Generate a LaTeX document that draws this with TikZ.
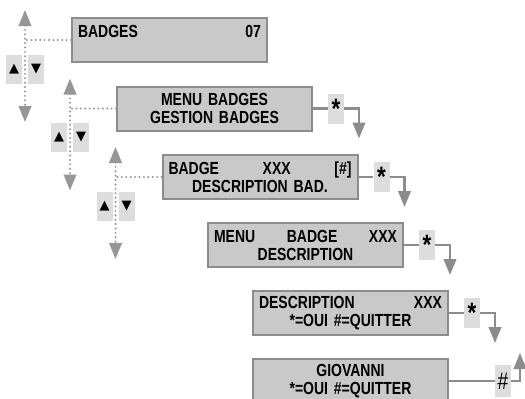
\documentclass[tikz,border=0pt]{standalone}
\usepackage{fontspec}
\setmainfont{Liberation Sans}[FakeStretch=0.8]
\newfontfamily\symfont{DejaVu Sans}
\usepackage{tikz}
\usetikzlibrary{arrows.meta,calc,positioning}
\definecolor{lcdfill}{RGB}{201,201,201}
\definecolor{lcdedge}{RGB}{140,140,140}
\definecolor{keyfill}{RGB}{221,221,221}
\definecolor{linegray}{RGB}{140,140,140}
\definecolor{dotgray}{RGB}{150,150,150}

\begin{document}
\begin{tikzpicture}[x=1pt,y=-1pt,
  lcd/.style={draw=lcdedge,fill=lcdfill,line width=2pt,minimum width=195pt,minimum height=44pt,
    text width=183pt,align=center,inner sep=0pt,font=\fontsize{17.5}{18}\selectfont\bfseries},
  key/.style={fill=keyfill,minimum width=16pt,minimum height=30pt,inner sep=0pt},
  dots/.style={draw=dotgray,line width=2.2pt,line cap=round,dash pattern=on 0pt off 4.4pt},
  conn/.style={draw=linegray,line width=2.4pt},
  tip/.tip={Triangle[length=16pt,width=12.5pt]}]
\useasboundingbox (0,0) rectangle (525,399);

\node[lcd] (badges) at (169.5,40) {BADGES\hfill 07\\\mbox{}};
\node[lcd] (menubadges) at (214.5,108.5) {MENU BADGES\\GESTION BADGES};
\node[lcd] (badge) at (260,177) {BADGE\hfill XXX\hfill [\#]\\DESCRIPTION BAD.};
\node[lcd] (menubadge) at (305.5,245) {MENU\hfill BADGE\hfill XXX\\DESCRIPTION};
\node[lcd] (descr) at (350.5,313) {DESCRIPTION\hfill XXX\\{}*=OUI \#=QUITTER};
\node[lcd] (giovanni) at (350.5,381) {GIOVANNI\\{}*=OUI \#=QUITTER};

\foreach \b in {badges,menubadges,badge}{
  \coordinate (\b-up) at ($(\b.north west)+(-46,-7)$);
  \coordinate (\b-dn) at ($(\b.north west)+(-46,105)$);
  \draw[dots] (\b.west) -- (\b.west -| \b-up);
  \draw[dots,tip-tip] (\b-up) -- (\b-dn);
  \node[key,minimum height=29pt] (\b-kup) at ($(\b.north west)+(-57,52)$) {\fontsize{13}{13}\symfont ▲};
  \node[key,minimum height=29pt] (\b-kdn) at ($(\b.north west)+(-35,52)$) {\fontsize{13}{13}\symfont ▼};
}

\foreach \b/\k in {menubadges/star1,badge/star2,menubadge/star3,descr/star4}{
  \node[key,font=\fontsize{28}{28}\selectfont\bfseries] (\k) at ($(\b.east)+(23,0)$) {*};
  \coordinate (\k-tip) at ($(\b.east)+(46,30)$);
  \draw[conn] (\b.east) -- (\k);
  \draw[conn,-tip] (\k) -| (\k-tip);
}

\node[key,minimum height=32pt,font=\fontsize{24}{24}\selectfont] (quit) at ($(giovanni.east)+(54,0)$) {\#};
\coordinate (quit-tip) at ($(giovanni.east)+(71,-28)$);
\draw[conn] (giovanni.east) -- (quit);
\draw[conn,-tip] (quit) -| (quit-tip);
\end{tikzpicture}
\end{document}
